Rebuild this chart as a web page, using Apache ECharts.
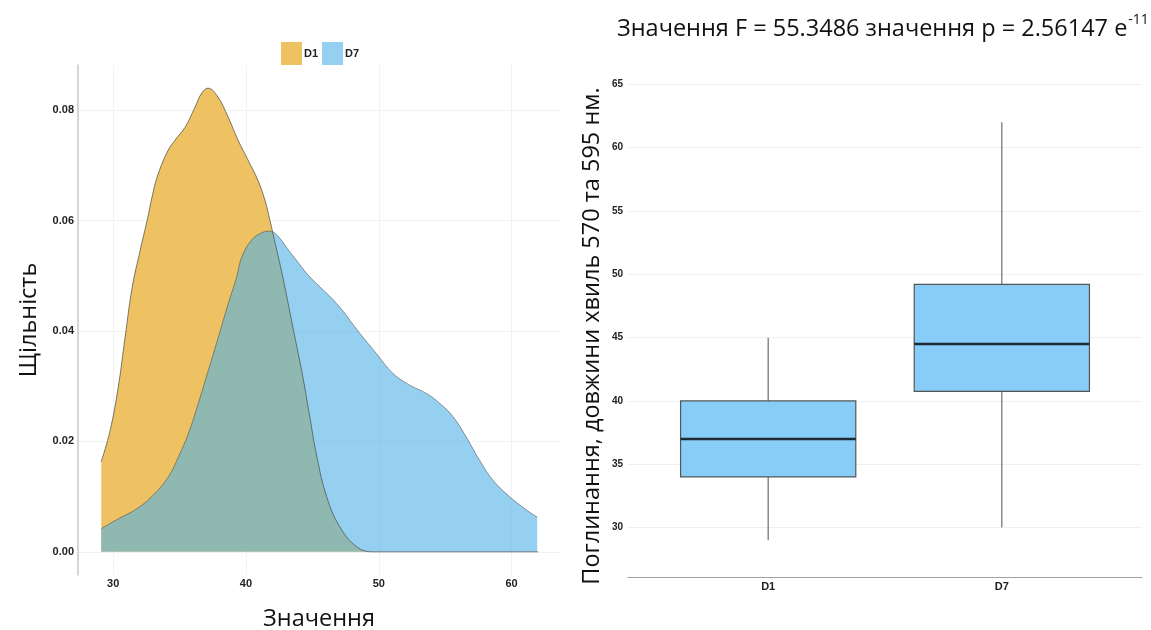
<!DOCTYPE html>
<html>
<head>
<meta charset="utf-8">
<script src="https://cdn.jsdelivr.net/npm/echarts@6/dist/echarts.min.js"></script>
<style>
  html, body { margin: 0; padding: 0; background: #ffffff; }
  #chart { width: 1151px; height: 630px; }
</style>
</head>
<body>
<div id="chart"></div>
<script>
// ---------- Data ----------
// Density curves: [value, density]
var densityD1 = [
  [29.10, 0.0163], [29.77, 0.0220], [30.38, 0.0298], [30.90, 0.0389], [31.43, 0.0479],
  [32.03, 0.0546], [32.56, 0.0601], [32.93, 0.0643], [33.31, 0.0679], [34.06, 0.0724],
  [34.66, 0.0746], [35.41, 0.0769], [36.17, 0.0806], [36.69, 0.0832], [37.14, 0.0840],
  [37.89, 0.0824], [38.65, 0.0788], [39.40, 0.0746], [40.15, 0.0710], [40.90, 0.0673],
  [41.43, 0.0637], [41.80, 0.0601], [42.03, 0.0577], [42.78, 0.0497], [43.53, 0.0407],
  [44.29, 0.0316], [44.81, 0.0244], [45.34, 0.0172], [46.09, 0.0099], [47.07, 0.0045],
  [48.35, 0.0009], [49.55, 0.0000], [52.00, 0.0000], [56.00, 0.0000], [62.00, 0.0000]
];
var densityD7 = [
  [29.10, 0.0042], [30.40, 0.0060], [31.65, 0.0076], [32.91, 0.0100], [34.16, 0.0136],
  [34.91, 0.0172], [35.66, 0.0214], [36.41, 0.0269], [37.17, 0.0329], [37.92, 0.0389],
  [38.67, 0.0450], [39.30, 0.0498], [39.68, 0.0534], [40.43, 0.0565], [41.18, 0.0578],
  [41.80, 0.0581], [42.40, 0.0572], [43.10, 0.0550], [44.00, 0.0522], [44.81, 0.0498],
  [46.82, 0.0450], [48.57, 0.0396], [49.83, 0.0359], [51.08, 0.0323], [52.33, 0.0302],
  [53.59, 0.0287], [54.59, 0.0269], [55.59, 0.0245], [56.59, 0.0208], [57.59, 0.0166],
  [58.59, 0.0130], [59.85, 0.0100], [61.11, 0.0076], [61.93, 0.0063]
];
var legendNames = ['D1', 'D7'];

// Boxplot: categories and [min, Q1, median, Q3, max]
var boxCategories = ['D1', 'D7'];
var boxStats = [
  [29.0, 34.0, 37.0, 40.0, 45.0],
  [30.0, 40.75, 44.5, 49.2, 62.0]
];

var titleMain = 'Значення F = 55.3486 значення p = 2.56147 e';
var titleSup = '-11';
var leftYName = 'Щільність';
var leftXName = 'Значення';
var rightYName = 'Поглинання, довжини хвиль 570 та 595 нм.';

// ---------- Build ----------
var boxData = boxStats.map(function (s, i) { return [i + 1].concat(s); });

var chart = echarts.init(document.getElementById('chart'), null, { renderer: 'canvas' });
var sans = 'Liberation Sans, Arial, sans-serif';
var big = 'Open Sans, Noto Sans, sans-serif';
var bigSize = 23.5;

var option = {
  backgroundColor: '#ffffff',
  animation: false,
  title: {
    left: 612, top: 8,
    text: '{a|' + titleMain + '}{b|' + titleSup + '}',
    textStyle: {
      fontWeight: 'normal',
      rich: {
        a: { fontFamily: big, fontSize: bigSize, fontWeight: 'normal', color: '#111', lineHeight: 32 },
        b: { fontFamily: big, fontSize: 14, fontWeight: 'normal', color: '#111', lineHeight: 32, verticalAlign: 'top', padding: [0, 0, 12, 1] }
      }
    }
  },
  legend: {
    left: 276, top: 37,
    icon: 'rect',
    itemWidth: 21, itemHeight: 23, itemGap: 4,
    textStyle: { fontFamily: sans, fontSize: 11, fontWeight: 'bold', color: '#222', padding: [0, 0, 0, -3] },
    data: [
      { name: 'D1', itemStyle: { color: '#EEC262' } },
      { name: 'D7', itemStyle: { color: '#96D0F0' } }
    ]
  },
  grid: [
    { left: 78, right: 591, top: 65, bottom: 55, outerBoundsMode: 'none', containLabel: false },
    { left: 628, right: 9, top: 59, bottom: 53, outerBoundsMode: 'none', containLabel: false }
  ],
  xAxis: [
    {
      gridIndex: 0, type: 'value', min: 27.35, max: 63.65, minInterval: 10, maxInterval: 10,
      name: leftXName, nameLocation: 'middle', nameGap: 32,
      nameTextStyle: { fontFamily: big, fontSize: bigSize, color: '#111' },
      axisLine: { show: false }, axisTick: { show: false },
      axisLabel: { fontFamily: sans, fontSize: 11, fontWeight: 'bold', color: '#222', margin: 3, showMinLabel: false, showMaxLabel: false },
      splitLine: { show: true, showMinLine: false, showMaxLine: false, lineStyle: { color: '#f2f2f2' } }
    },
    {
      gridIndex: 1, type: 'value', min: 0.4, max: 2.6, minInterval: 1, maxInterval: 1,
      axisLine: { show: true, lineStyle: { color: '#a0a0a0', width: 1 } }, axisTick: { show: false },
      axisLabel: {
        fontFamily: sans, fontSize: 11, fontWeight: 'bold', color: '#222', margin: 4,
        showMinLabel: false, showMaxLabel: false,
        formatter: function (v) { return boxCategories[Math.round(v) - 1] || ''; }
      },
      splitLine: { show: false }
    }
  ],
  yAxis: [
    {
      gridIndex: 0, type: 'value', min: -0.0042, max: 0.0882, minInterval: 0.02, maxInterval: 0.02,
      name: leftYName, nameLocation: 'middle', nameGap: 37, nameRotate: 90,
      nameTextStyle: { fontFamily: big, fontSize: bigSize, color: '#111' },
      axisLine: { show: true, lineStyle: { color: '#c8c8c8', width: 1.5 } }, axisTick: { show: false },
      axisLabel: {
        fontFamily: sans, fontSize: 11, fontWeight: 'bold', color: '#222', margin: 4,
        showMinLabel: false, showMaxLabel: false,
        formatter: function (v) { return v.toFixed(2); }
      },
      splitLine: { show: true, showMinLine: false, showMaxLine: false, lineStyle: { color: '#f2f2f2' } }
    },
    {
      gridIndex: 1, type: 'value', min: 26.1, max: 67, minInterval: 5, maxInterval: 5,
      name: rightYName, nameLocation: 'middle', nameGap: 24, nameRotate: 90,
      nameTextStyle: { fontFamily: big, fontSize: bigSize, color: '#111', padding: [0, 36, 0, 0] },
      axisLine: { show: false }, axisTick: { show: false },
      axisLabel: { fontFamily: sans, fontSize: 10, fontWeight: 'bold', color: '#222', margin: 5, showMinLabel: false, showMaxLabel: false },
      splitLine: { show: true, showMinLine: false, showMaxLine: false, lineStyle: { color: '#f0f0f0' } }
    }
  ],
  series: [
    {
      name: 'D1', type: 'line', xAxisIndex: 0, yAxisIndex: 0,
      data: densityD1, smooth: 0.4, symbol: 'none',
      itemStyle: { color: '#EEC262' },
      lineStyle: { color: '#4a4a4a', width: 0.8, opacity: 0.9 },
      areaStyle: { color: '#EEC262', opacity: 1 }
    },
    {
      name: 'D7', type: 'line', xAxisIndex: 0, yAxisIndex: 0,
      data: densityD7, smooth: 0.4, symbol: 'none',
      itemStyle: { color: '#96D0F0' },
      lineStyle: { color: '#4a4a4a', width: 0.8, opacity: 0.7 },
      areaStyle: { color: 'rgb(80,177,230)', opacity: 0.6 }
    },
    {
      name: 'box', type: 'custom', xAxisIndex: 1, yAxisIndex: 1,
      data: boxData,
      encode: { x: 0, y: [1, 2, 3, 4, 5] },
      renderItem: function (params, api) {
        var x = api.value(0);
        var lo = api.coord([x, api.value(1)]);
        var q1 = api.coord([x, api.value(2)]);
        var md = api.coord([x, api.value(3)]);
        var q3 = api.coord([x, api.value(4)]);
        var hi = api.coord([x, api.value(5)]);
        var half = api.size([0.375, 0])[0];
        var wStyle = { stroke: '#6e6e6e', lineWidth: 1.2 };
        return {
          type: 'group',
          children: [
            { type: 'line', shape: { x1: lo[0], y1: lo[1], x2: q1[0], y2: q1[1] }, style: wStyle },
            { type: 'line', shape: { x1: q3[0], y1: q3[1], x2: hi[0], y2: hi[1] }, style: wStyle },
            { type: 'rect', shape: { x: q3[0] - half, y: q3[1], width: 2 * half, height: q1[1] - q3[1] },
              style: { fill: '#87CDF8', stroke: '#555555', lineWidth: 1.2 } },
            { type: 'line', shape: { x1: md[0] - half, y1: md[1], x2: md[0] + half, y2: md[1] },
              style: { stroke: '#1e2a33', lineWidth: 2.5 } }
          ]
        };
      }
    }
  ]
};
chart.setOption(option);
</script>
</body>
</html>
